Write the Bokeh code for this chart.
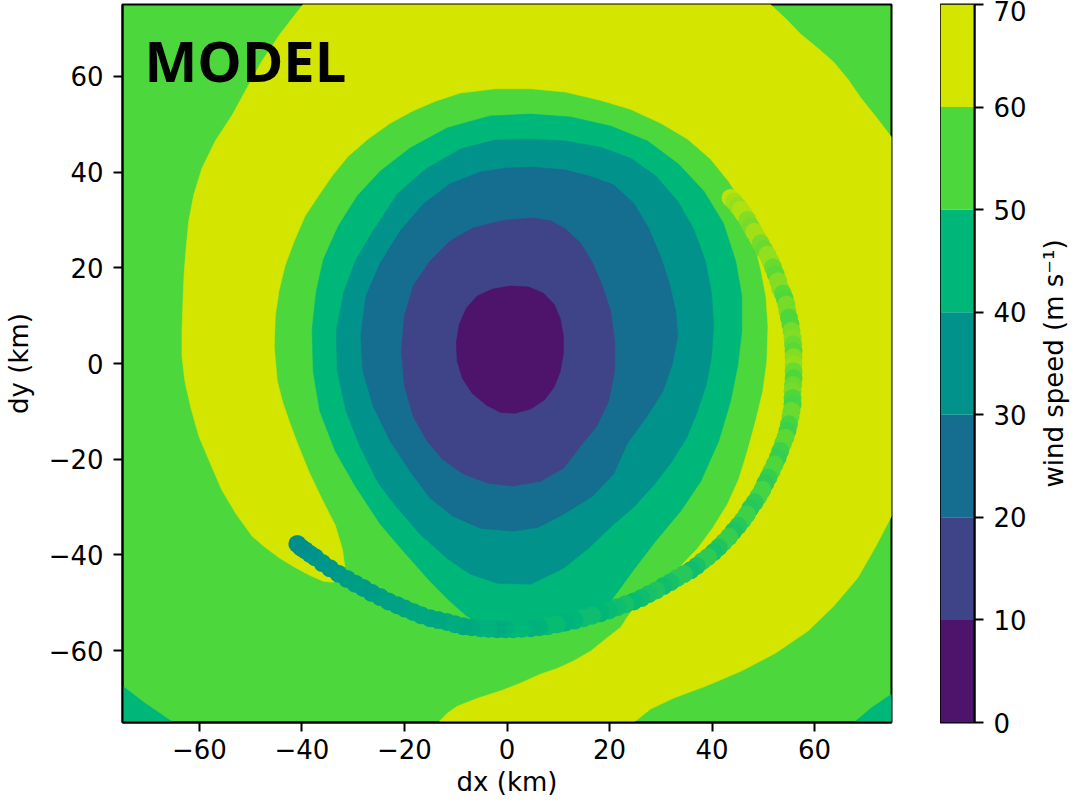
import math
from bokeh.plotting import figure
from bokeh.models import Range1d, FixedTicker, Label, ColumnDataSource, LinearColorMapper
from bokeh.layouts import row
from bokeh.embed import file_html
from bokeh.resources import INLINE
from bokeh.transform import transform

# ---------------- data ----------------
levels = [0, 10, 20, 30, 40, 50, 60, 70]
band_colors = ["#4e136b", "#3f4489", "#156d8f", "#00928b", "#00b77a", "#4cd73c", "#d4e600"]
axis_ticks = [-60, -40, -20, 0, 20, 40, 60]

# filled-contour regions (km); the plot background is the 50-60 band
corner_sw_x = [-75.0, -70.6, -65.1, -75.0]
corner_sw_y = [-67.4, -71.0, -75.0, -75.0]
corner_se_x = [75.0, 71.0, 67.7, 75.0]
corner_se_y = [-69.1, -72.0, -75.0, -75.0]

band60_x = [-39.8, 51.4, 54.4, 57.3, 60.6, 63.7, 66.5, 69.0, 72.0, 75.0,
            75.0, 72.0, 68.4, 63.7, 58.7, 52.4, 45.6, 38.8, 32.5, 28.0, 24.7,
            -13.4, -11.7, -9.7, -5.6, -1.3, 2.6, 6.5, 9.8, 12.9, 16.3, 19.2, 22.2, 23.7,
            26.1, 30.0, 33.9, 37.2, 40.1, 43.0, 45.2, 46.9, 48.5, 49.9, 50.7, 50.9,
            50.5, 49.5, 47.9, 46.2, 43.2, 39.7, 35.2, 30.0, 24.1, 18.2, 11.4, 4.6,
            -2.3, -9.1, -14.0, -18.3, -22.8, -27.1, -31.0, -34.1, -36.8, -39.4, -41.5,
            -43.3, -44.5, -45.2, -45.4, -44.8, -43.8, -42.5, -40.9, -38.6, -36.1, -33.5,
            -32.1, -31.6, -32.1, -33.9, -35.8, -38.6, -41.5, -44.3, -47.2, -49.7, -52.8,
            -55.6, -57.9, -60.1, -61.6, -62.8, -63.4, -63.4, -63.2, -63.0, -62.6, -62.1,
            -61.1, -59.5, -56.9, -53.6, -50.7, -47.8, -44.3]
band60_y = [75.0, 75.0, 72.0, 68.8, 65.9, 63.0, 59.4, 55.5, 51.5, 47.3,
            -31.9, -38.1, -44.8, -50.7, -55.9, -60.5, -64.3, -67.4, -69.9, -72.2, -75.0,
            -75.0, -73.1, -71.6, -69.9, -68.4, -66.8, -64.9, -63.7, -62.2, -60.1, -57.6, -55.1, -52.6,
            -49.2, -45.5, -42.3, -38.6, -34.4, -29.4, -24.2, -18.3, -12.0, -5.8, 0.5, 7.8,
            14.1, 19.7, 26.6, 33.1, 38.1, 42.7, 46.9, 50.2, 53.1, 55.0, 56.7, 57.4,
            57.4, 56.5, 54.8, 52.8, 50.2, 46.9, 43.3, 39.2, 35.0, 30.8, 25.6,
            20.4, 15.1, 9.9, 3.4, -3.7, -7.9, -12.0, -16.6, -22.7, -28.3, -33.8,
            -38.8, -42.7, -44.8, -45.7, -45.5, -44.2, -42.5, -40.7, -38.4, -36.1, -31.5,
            -26.5, -20.8, -15.2, -9.5, -3.9, 1.5, 7.2, 13.0, 18.5, 23.9, 29.6,
            35.2, 40.8, 46.5, 51.9, 57.6, 63.2, 68.8]

band40_x = [4.6, 12.4, 20.2, 27.4, 33.5, 38.4, 42.2, 44.6, 45.8, 45.8, 45.0, 43.6,
            41.3, 37.8, 33.9, 29.0, 24.5, 20.2, 16.3, 11.4, 4.6, -2.3, -7.8, -11.5,
            -15.0, -19.9, -24.7, -29.6, -33.5, -36.5, -37.8, -38.0, -37.2, -35.8, -32.9,
            -29.2, -24.7, -18.9, -11.7, -3.3]
band40_y = [52.1, 51.5, 49.6, 46.5, 41.6, 36.0, 29.3, 21.4, 14.1, 6.8, -0.5, -7.9,
            -16.2, -24.6, -30.8, -37.1, -43.4, -49.7, -53.8, -55.9, -56.7, -56.3, -52.8, -49.3,
            -45.5, -39.6, -33.6, -25.6, -18.3, -10.0, -1.6, 7.2, 15.1, 21.8, 28.7,
            35.0, 40.2, 45.0, 49.2, 51.7]

band30_x = [4.6, 11.4, 18.2, 24.1, 29.0, 33.3, 36.4, 38.7, 39.9, 40.3, 39.9, 38.9,
            37.2, 35.0, 32.1, 28.8, 24.9, 20.8, 15.9, 11.0, 4.6, -1.9, -7.2, -11.7,
            -16.9, -21.4, -25.1, -28.7, -31.4, -33.1, -33.3, -31.9, -29.6, -26.3, -21.4,
            -15.9, -9.1, -2.3]
band30_y = [46.9, 46.5, 45.2, 42.9, 39.2, 33.9, 28.1, 21.4, 14.7, 7.8, 1.5, -4.3,
            -9.9, -15.6, -20.6, -25.2, -29.8, -33.6, -38.6, -42.8, -46.1, -45.9, -44.0, -40.7,
            -35.7, -30.2, -25.0, -17.3, -10.0, -1.6, 6.8, 14.7, 21.4, 27.4, 35.4,
            40.6, 44.8, 46.7]

band20_x = [5.1, 11.4, 16.7, 20.8, 24.7, 27.6, 30.0, 31.7, 32.9, 33.3, 32.3, 30.4,
            27.2, 23.5, 20.8, 16.7, 11.0, 6.1, 1.2, -5.2, -10.5, -15.0, -18.9, -22.8,
            -26.1, -28.1, -28.5, -27.5, -24.7, -20.8, -16.3, -11.1, -5.2, -0.3]
band20_y = [41.0, 40.4, 38.9, 37.3, 33.5, 28.3, 22.2, 16.6, 11.0, 5.7, 0.1, -5.8,
            -11.2, -16.6, -23.1, -27.7, -31.5, -34.2, -35.0, -34.4, -31.9, -28.1, -22.5, -16.2,
            -8.9, -1.6, 5.7, 14.1, 21.0, 27.7, 33.3, 37.5, 40.0, 40.8]

band10_x = [5.1, 8.5, 11.4, 14.3, 16.7, 18.6, 20.2, 21.0, 21.0, 19.8, 17.5, 14.3,
            11.0, 6.5, 1.2, -3.7, -8.5, -12.6, -15.6, -18.3, -20.0, -20.6, -20.0, -18.3,
            -15.0, -11.1, -6.6, -0.7]
band10_y = [30.4, 29.8, 28.1, 25.2, 21.0, 16.2, 11.0, 4.7, -1.6, -7.9, -13.1, -17.3,
            -21.9, -24.6, -25.6, -25.0, -23.1, -20.0, -16.2, -11.0, -4.7, 2.6, 9.9, 16.2,
            21.4, 25.6, 28.3, 29.9]

band0_x = [0.6, 4.2, 7.1, 9.2, 10.4, 11.0, 11.0, 10.4, 9.2, 7.3, 4.6, 1.6,
           -1.3, -4.0, -6.8, -8.7, -9.7, -9.9, -9.3, -7.9, -5.8, -2.9]
band0_y = [16.2, 16.0, 14.7, 12.4, 9.3, 5.7, 2.2, -1.6, -4.9, -7.6, -9.5, -10.4,
           -10.2, -8.7, -6.2, -3.1, 0.5, 4.3, 8.2, 11.6, 14.1, 15.5]

# observed track (km) and its wind speed (m/s)
track_x = [43.6, 44.3, 45.0, 45.6, 46.2, 46.9, 47.5, 48.2, 48.9, 49.5, 50.1, 50.8,
           51.4, 51.9, 52.4, 52.9, 53.3, 53.8, 54.2, 54.5, 54.7, 55.0, 55.3, 55.5,
           55.7, 55.8, 55.9, 55.9, 55.9, 55.9, 55.9, 55.8, 55.7, 55.7, 55.7, 55.5,
           55.3, 55.0, 54.7, 54.3, 53.8, 53.3, 52.8, 52.2, 51.6, 51.0, 50.4, 49.8,
           49.1, 48.3, 47.5, 46.8, 46.0, 45.1, 44.2, 43.3, 42.3, 41.3, 40.3, 39.2,
           38.1, 37.0, 35.8, 34.5, 33.2, 31.9, 30.5, 29.1, 27.6, 26.2, 24.7, 23.1,
           21.5, 19.9, 18.2, 16.6, 14.9, 13.2, 11.4, 9.7, 7.9, 6.3, 4.6, 2.9,
           1.2, -0.4, -1.9, -3.6, -5.2, -6.9, -8.5, -10.1, -11.7, -13.4, -15.0, -16.7,
           -18.3, -19.9, -21.4, -23.1, -24.7, -26.4, -28.0, -29.6, -31.2, -32.9, -34.5, -36.0,
           -37.4, -38.4, -39.4, -40.2, -40.9]
track_y = [34.6, 33.8, 32.9, 32.1, 31.2, 30.0, 28.7, 27.5, 26.2, 25.1, 23.9, 22.7,
           21.4, 20.1, 18.7, 17.2, 15.7, 14.6, 13.5, 12.3, 11.0, 9.6, 8.2, 6.8,
           5.3, 4.0, 2.6, 1.3, -0.1, -1.6, -3.1, -4.5, -5.8, -7.2, -8.5, -9.9,
           -11.2, -12.7, -14.1, -15.5, -16.8, -18.3, -19.7, -21.1, -22.5, -23.8, -25.0, -26.4,
           -27.7, -29.0, -30.2, -31.5, -32.7, -33.9, -35.0, -36.2, -37.3, -38.4, -39.4, -40.4,
           -41.3, -42.3, -43.2, -44.0, -44.8, -45.7, -46.5, -47.4, -48.2, -49.0, -49.7, -50.3,
           -50.9, -51.6, -52.2, -52.7, -53.2, -53.7, -54.1, -54.5, -54.9, -55.1, -55.3, -55.4,
           -55.5, -55.5, -55.5, -55.4, -55.3, -55.1, -54.9, -54.5, -54.0, -53.6, -53.2, -52.6,
           -51.9, -51.2, -50.5, -49.7, -48.8, -47.9, -46.9, -46.0, -45.0, -43.9, -42.8, -41.7,
           -40.5, -39.8, -39.0, -38.4, -37.7]
track_ws = [63, 61, 60, 62, 62, 59, 58, 61, 61, 58, 57, 60,
            60, 57, 56, 59, 59, 56, 55, 58, 58, 55, 55, 58,
            59, 57, 56, 59, 60, 57, 55, 57, 58, 55, 54, 57,
            57, 54, 53, 56, 56, 53, 52, 55, 55, 52, 51, 54,
            54, 51, 50, 53, 53, 50, 49, 52, 52, 49, 48, 51,
            51, 48, 47, 50, 50, 48, 47, 49, 48, 47, 46, 48,
            47, 46, 45, 47, 47, 45, 44, 46, 46, 44, 43, 45,
            45, 43, 42, 43, 43, 42, 41, 42, 42, 41, 40, 41,
            41, 40, 39, 39, 39, 38, 37, 38, 38, 37, 36, 36,
            36, 35, 35, 34, 34]

# ---------------- styling helpers ----------------
FONT = "DejaVu Sans"
FS = "26px"
H = 804
TOP, BOTTOM = 4, 82


def _rgb(h):
    return tuple(int(h[i:i + 2], 16) for i in (1, 3, 5))


centers = [(levels[i] + levels[i + 1]) / 2 for i in range(len(levels) - 1)]
rgbs = [_rgb(c) for c in band_colors]
track_palette = []
for k in range(256):
    v = levels[-1] * k / 255
    if v <= centers[0]:
        c = rgbs[0]
    elif v >= centers[-1]:
        c = rgbs[-1]
    else:
        j = min(int((v - centers[0]) // 10), len(centers) - 2)
        t = (v - centers[j]) / 10
        c = tuple(round(rgbs[j][m] + t * (rgbs[j + 1][m] - rgbs[j][m])) for m in range(3))
    track_palette.append("#%02x%02x%02x" % c)


def style_axis(ax, ticks, overrides=None):
    ax.ticker = FixedTicker(ticks=ticks)
    if overrides:
        ax.major_label_overrides = overrides
    ax.major_label_text_font = FONT
    ax.major_label_text_font_size = FS
    ax.major_label_text_color = "black"
    ax.axis_label_text_font = FONT
    ax.axis_label_text_font_size = FS
    ax.axis_label_text_font_style = "normal"
    ax.axis_label_text_color = "black"
    ax.major_tick_out = 9
    ax.major_tick_in = 0
    ax.major_tick_line_width = 2
    ax.major_tick_line_color = "black"
    ax.minor_tick_out = 0
    ax.minor_tick_in = 0
    ax.axis_line_width = 2
    ax.axis_line_color = "black"


minus = {t: (("\u2212" + str(-t)) if t < 0 else str(t)) for t in axis_ticks}

# ---------------- main panel ----------------
p = figure(width=940, height=H, x_range=Range1d(-75, 75), y_range=Range1d(-75, 75),
           output_backend="svg", toolbar_location=None,
           min_border_left=122, min_border_right=49, min_border_top=TOP, min_border_bottom=BOTTOM,
           x_axis_label="dx (km)", y_axis_label="dy (km)")
p.background_fill_color = band_colors[5]
p.border_fill_color = "white"
p.outline_line_color = "black"
p.outline_line_width = 2
p.grid.visible = False

regions = [
    (corner_sw_x, corner_sw_y, 40),
    (corner_se_x, corner_se_y, 40),
    (band60_x, band60_y, 60),
    (band40_x, band40_y, 40),
    (band30_x, band30_y, 30),
    (band20_x, band20_y, 20),
    (band10_x, band10_y, 10),
    (band0_x, band0_y, 0),
]
reg_src = ColumnDataSource(dict(
    xs=[r[0] for r in regions],
    ys=[r[1] for r in regions],
    color=[band_colors[levels.index(r[2])] for r in regions],
))
p.patches("xs", "ys", source=reg_src, fill_color="color", line_color="color", line_width=0.6)

mapper = LinearColorMapper(palette=track_palette, low=levels[0], high=levels[-1])
trk_src = ColumnDataSource(dict(x=track_x, y=track_y, ws=track_ws))
p.scatter("x", "y", source=trk_src, size=18, fill_color=transform("ws", mapper), line_color=None)

style_axis(p.xaxis[0], axis_ticks, minus)
style_axis(p.yaxis[0], axis_ticks, minus)
p.xaxis[0].major_label_standoff = 7
p.xaxis[0].axis_label_standoff = 5
p.yaxis[0].major_label_standoff = 10
p.yaxis[0].axis_label_standoff = 12

p.add_layout(Label(x=-70.7, y=63.5, text="MODEL", text_font="Open Sans",
                   text_font_size="56px", text_font_style="bold", text_color="black",
                   text_baseline="alphabetic", text_align="left"))

# ---------------- colour bar ----------------
cb = figure(width=89, height=H, x_range=Range1d(0, 1), y_range=Range1d(levels[0], levels[-1]),
            output_backend="svg", toolbar_location=None,
            min_border_left=0, min_border_right=54, min_border_top=TOP, min_border_bottom=BOTTOM,
            x_axis_location=None, y_axis_location="right")
cb.quad(left=0, right=1, bottom=levels[:-1], top=levels[1:], fill_color=band_colors, line_color=None)
cb.outline_line_color = "black"
cb.outline_line_width = 2
cb.grid.visible = False
cb.border_fill_color = "white"
style_axis(cb.yaxis[0], levels)
cb.yaxis[0].major_label_standoff = 10

# colour-bar title, reading bottom to top
lf = figure(width=46, height=H, x_range=Range1d(0, 46), y_range=Range1d(levels[0], levels[-1]),
            output_backend="svg", toolbar_location=None,
            min_border_left=0, min_border_right=0, min_border_top=TOP, min_border_bottom=BOTTOM,
            x_axis_location=None, y_axis_location=None)
lf.outline_line_color = None
lf.grid.visible = False
lf.background_fill_color = "white"
lf.border_fill_color = "white"
lf.add_layout(Label(x=24, y=35, text="wind speed (m s\u207b\u00b9)", angle=math.pi / 2,
                    text_font=FONT, text_font_size=FS, text_color="black",
                    text_align="center", text_baseline="middle"))

layout = row(p, cb, lf)
open("out.html", "w").write(file_html(layout, INLINE))
